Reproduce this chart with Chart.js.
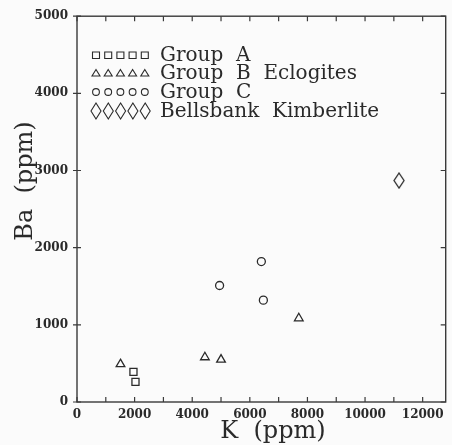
<!DOCTYPE html>
<html>
<head>
<meta charset="utf-8">
<script src="https://cdn.jsdelivr.net/npm/chart.js@4/dist/chart.umd.min.js"></script>
<style>
  html, body { margin: 0; padding: 0; background: #fbfbfb; }
  #wrap { width: 452px; height: 445px; }
</style>
</head>
<body>
<div id="wrap"><canvas id="grafico" width="452" height="445"></canvas></div>
<script>
// valores
const grupoAK = [1960, 2030];
const grupoABa = [390, 260];
const grupoBK = [1510, 4440, 5000, 7700];
const grupoBBa = [490, 580, 550, 1085];
const grupoCK = [4950, 6400, 6470];
const grupoCBa = [1510, 1820, 1320];
const kimberliteK = [11180];
const kimberliteBa = [2870];

const xTicks = [0, 1000, 2000, 3000, 4000, 5000, 6000, 7000, 8000, 9000, 10000, 11000, 12000];
const xLabels = [0, 2000, 4000, 6000, 8000, 10000, 12000];
const yTicks = [0, 1000, 2000, 3000, 4000, 5000];

const legendas = ['Group  A', 'Group  B  Eclogites', 'Group  C', 'Bellsbank  Kimberlite'];
const tituloX = 'K  (ppm)';
const tituloY = 'Ba  (ppm)';

const corTinta = '#2a2a2a';

function juntar(xs, ys) {
    return xs.map((x, i) => ({ x: x, y: ys[i] }));
}

// losango alongado para o kimberlito
function criarLosango(w, h) {
    const c = document.createElement('canvas');
    c.width = w + 2;
    c.height = h + 2;
    const g = c.getContext('2d');
    g.strokeStyle = corTinta;
    g.lineWidth = 1.3;
    g.beginPath();
    g.moveTo(c.width / 2, 1);
    g.lineTo(c.width - 1, c.height / 2);
    g.lineTo(c.width / 2, c.height - 1);
    g.lineTo(1, c.height / 2);
    g.closePath();
    g.stroke();
    return c;
}

function desenharMarcador(ctx, tipo, x, y) {
    ctx.beginPath();
    if (tipo === 'rect') {
        ctx.rect(x - 3.5, y - 3, 7, 6.5);
    } else if (tipo === 'triangle') {
        ctx.moveTo(x, y - 3.5);
        ctx.lineTo(x + 4, y + 3);
        ctx.lineTo(x - 4, y + 3);
        ctx.closePath();
    } else if (tipo === 'circle') {
        ctx.arc(x, y, 3.4, 0, Math.PI * 2);
    } else {
        ctx.moveTo(x, y - 8);
        ctx.lineTo(x + 5, y);
        ctx.lineTo(x, y + 8);
        ctx.lineTo(x - 5, y);
        ctx.closePath();
    }
    ctx.stroke();
}

const molduraPlugin = {
    id: 'moldura',
    afterDraw(chart) {
        const ctx = chart.ctx;
        const a = chart.chartArea;
        const xs = chart.scales.x;
        const ys = chart.scales.y;
        ctx.save();
        ctx.strokeStyle = '#3a3a3a';
        ctx.lineWidth = 1.4;
        ctx.strokeRect(a.left, a.top, a.right - a.left, a.bottom - a.top);

        // marcas para dentro
        ctx.lineWidth = 1.2;
        ctx.beginPath();
        xTicks.forEach(v => {
            const px = xs.getPixelForValue(v);
            ctx.moveTo(px, a.bottom);
            ctx.lineTo(px, a.bottom - 5);
            ctx.moveTo(px, a.top);
            ctx.lineTo(px, a.top + 5);
        });
        yTicks.forEach(v => {
            const py = ys.getPixelForValue(v);
            ctx.moveTo(a.left - 4, py);
            ctx.lineTo(a.left + 4, py);
            ctx.moveTo(a.right, py);
            ctx.lineTo(a.right - 5, py);
        });
        ctx.stroke();

        // legenda dentro da area
        const tipos = ['rect', 'triangle', 'circle', 'rectRot'];
        const linhas = [55, 73, 92, 111];
        ctx.fillStyle = corTinta;
        ctx.strokeStyle = corTinta;
        ctx.lineWidth = 1.1;
        ctx.font = '20px "DejaVu Serif"';
        ctx.textBaseline = 'middle';
        ctx.textAlign = 'left';
        legendas.forEach((txt, i) => {
            const passo = tipos[i] === 'rectRot' ? 12.3 : 12.2;
            for (let k = 0; k < 5; k++) {
                desenharMarcador(ctx, tipos[i], 96 + k * passo, linhas[i]);
            }
            ctx.fillText(txt, 160, linhas[i] + 1);
        });

        // titulos dos eixos
        ctx.font = '24px "DejaVu Serif"';
        ctx.textAlign = 'center';
        ctx.fillText(tituloX, 273, 432);
        ctx.translate(26, 181);
        ctx.rotate(-Math.PI / 2);
        ctx.fillText(tituloY, 0, 0);
        ctx.restore();
    }
};

const ctx = document.getElementById('grafico').getContext('2d');

new Chart(ctx, {
    type: 'scatter',
    data: {
        datasets: [
            {
                label: legendas[0],
                data: juntar(grupoAK, grupoABa),
                pointStyle: 'rect',
                pointRadius: 5,
                borderColor: corTinta,
                borderWidth: 1.3,
                backgroundColor: 'rgba(0,0,0,0)'
            },
            {
                label: legendas[1],
                data: juntar(grupoBK, grupoBBa),
                pointStyle: 'triangle',
                pointRadius: 5,
                borderColor: corTinta,
                borderWidth: 1.3,
                backgroundColor: 'rgba(0,0,0,0)'
            },
            {
                label: legendas[2],
                data: juntar(grupoCK, grupoCBa),
                pointStyle: 'circle',
                pointRadius: 4,
                borderColor: corTinta,
                borderWidth: 1.3,
                backgroundColor: 'rgba(0,0,0,0)'
            },
            {
                label: legendas[3],
                data: juntar(kimberliteK, kimberliteBa),
                pointStyle: criarLosango(10, 15),
                borderColor: corTinta,
                backgroundColor: 'rgba(0,0,0,0)'
            }
        ]
    },
    options: {
        responsive: false,
        animation: false,
        layout: { padding: { top: 15, right: 3, left: 0, bottom: 0 } },
        scales: {
            x: {
                type: 'linear',
                min: 0,
                max: 12800,
                afterBuildTicks: (scale) => {
                    scale.ticks = xLabels.map(v => ({ value: v }));
                },
                afterFit: (scale) => { scale.height = 43; },
                grid: { display: false, drawTicks: false },
                border: { display: false },
                ticks: {
                    color: corTinta,
                    padding: 6,
                    maxRotation: 0,
                    autoSkip: false,
                    callback: (v) => String(v),
                    font: { family: 'DejaVu Serif', size: 12, weight: 'bold' }
                }
            },
            y: {
                type: 'linear',
                min: 0,
                max: 5000,
                afterBuildTicks: (scale) => {
                    scale.ticks = yTicks.map(v => ({ value: v }));
                },
                afterFit: (scale) => { scale.width = 77; },
                grid: { display: false, drawTicks: false },
                border: { display: false },
                ticks: {
                    color: corTinta,
                    padding: 9,
                    autoSkip: false,
                    callback: (v) => String(v),
                    font: { family: 'DejaVu Serif', size: 12, weight: 'bold' }
                }
            }
        },
        plugins: {
            legend: { display: false },
            tooltip: { enabled: false }
        }
    },
    plugins: [molduraPlugin]
});
</script>
</body>
</html>
